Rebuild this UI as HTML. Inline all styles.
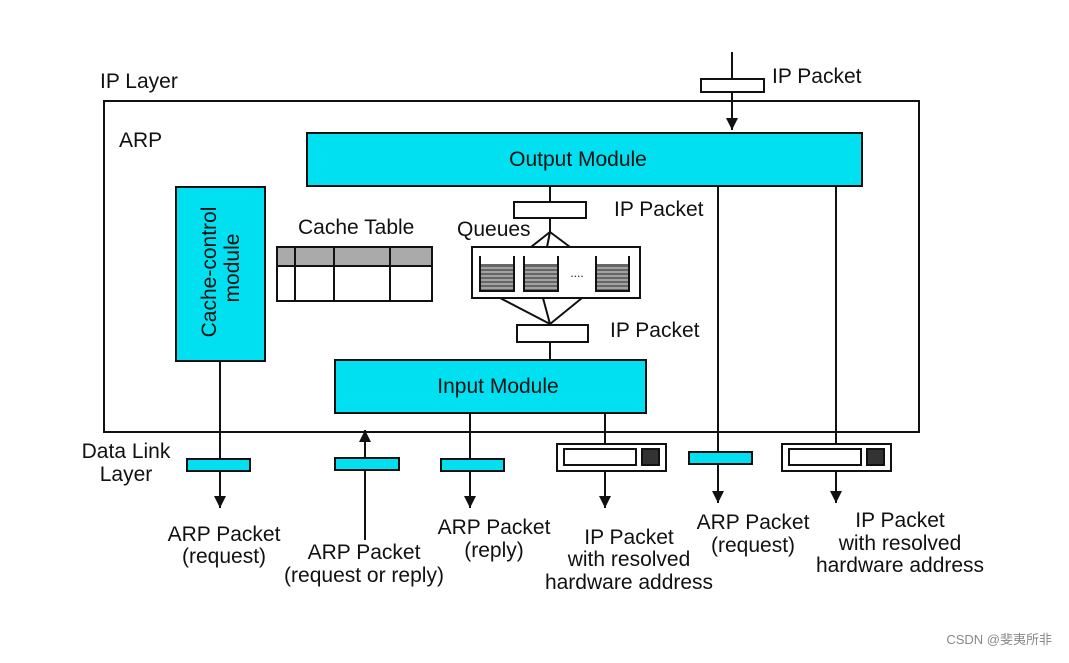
<!DOCTYPE html>
<html><head><style>
html,body{margin:0;padding:0;background:#fff;}
svg text{font-family:"Liberation Sans",sans-serif;fill:#111;}
</style></head><body>
<svg width="1069" height="658" viewBox="0 0 1069 658" xmlns="http://www.w3.org/2000/svg">
<defs>
<marker id="ah" markerWidth="12" markerHeight="12" refX="10" refY="5" orient="auto-start-reverse" markerUnits="userSpaceOnUse" viewBox="0 0 10 10">
<path d="M0,0 L10,5 L0,10 Z" fill="#111"/>
</marker>
</defs>
<rect x="104" y="101" width="815" height="331" fill="#fff" stroke="#111" stroke-width="2"/>
<text x="100" y="88" font-size="21">IP Layer</text>
<text x="119" y="147" font-size="21">ARP</text>
<!-- top IP packet -->
<line x1="732" y1="52" x2="732" y2="79" stroke="#111" stroke-width="2"/>
<line x1="732" y1="92" x2="732" y2="130" stroke="#111" stroke-width="2" marker-end="url(#ah)"/>
<rect x="701" y="79" width="63" height="13" fill="#fff" stroke="#111" stroke-width="2"/>
<text x="772" y="83" font-size="21">IP Packet</text>
<!-- output module -->
<rect x="307" y="133" width="555" height="53" fill="#00e0f0" stroke="#111" stroke-width="2"/>
<text x="578" y="166" font-size="21" text-anchor="middle">Output Module</text>
<!-- cache control -->
<rect x="176" y="187" width="89" height="174" fill="#00e0f0" stroke="#111" stroke-width="2"/>
<text font-size="21" text-anchor="middle" transform="translate(216,272) rotate(-90)">Cache-control</text>
<text font-size="21" text-anchor="middle" transform="translate(239,268) rotate(-90)">module</text>
<!-- cache table -->
<text x="298" y="234" font-size="21">Cache Table</text>
<rect x="277" y="247" width="155" height="19" fill="#aaa"/>
<g stroke="#111" stroke-width="2" fill="none">
<rect x="277" y="247" width="155" height="54"/>
<line x1="277" y1="266" x2="432" y2="266"/>
<line x1="295" y1="247" x2="295" y2="301"/>
<line x1="334" y1="247" x2="334" y2="301"/>
<line x1="390" y1="247" x2="390" y2="301"/>
</g>
<!-- queues -->
<text x="457" y="236" font-size="21">Queues</text>
<text x="614" y="216" font-size="21">IP Packet</text>
<text x="610" y="337" font-size="21">IP Packet</text>
<g stroke="#111" stroke-width="2" fill="none">
<line x1="550" y1="186" x2="550" y2="202"/>
<line x1="550" y1="218" x2="550" y2="232"/>
<line x1="550" y1="232" x2="531" y2="247"/>
<line x1="550" y1="232" x2="547" y2="247"/>
<line x1="550" y1="232" x2="570" y2="247"/>
<line x1="500" y1="298" x2="550" y2="324"/>
<line x1="543" y1="298" x2="550" y2="324"/>
<line x1="582" y1="298" x2="550" y2="324"/>
<line x1="550" y1="342" x2="550" y2="360"/>
<rect x="514" y="202" width="72" height="16" fill="#fff"/>
<rect x="517" y="325" width="71" height="17" fill="#fff"/>
<rect x="472" y="247" width="168" height="51" fill="#fff"/>
</g>
<g>
<rect x="481" y="264" width="32" height="26" fill="#666"/>
<rect x="525" y="264" width="32" height="26" fill="#666"/>
<rect x="597" y="264" width="31" height="26" fill="#666"/>
<g stroke="#ddd" stroke-width="1">
<line x1="481" y1="268" x2="628" y2="268"/><line x1="481" y1="272" x2="628" y2="272"/>
<line x1="481" y1="276" x2="628" y2="276"/><line x1="481" y1="280" x2="628" y2="280"/>
<line x1="481" y1="284" x2="628" y2="284"/><line x1="481" y1="288" x2="628" y2="288"/>
</g>
<rect x="514" y="262" width="10" height="30" fill="#fff"/>
<rect x="558" y="262" width="38" height="30" fill="#fff"/>
<g stroke="#111" stroke-width="2" fill="none">
<path d="M480,256 V291 H514 V256"/>
<path d="M524,256 V291 H558 V256"/>
<path d="M596,256 V291 H629 V256"/>
</g>
<text x="577" y="277" font-size="12" text-anchor="middle">....</text>
</g>
<!-- input module -->
<rect x="335" y="360" width="311" height="53" fill="#00e0f0" stroke="#111" stroke-width="2"/>
<text x="498" y="393" font-size="21" text-anchor="middle">Input Module</text>
<!-- vertical lines -->
<g stroke="#111" stroke-width="2">
<line x1="220" y1="361" x2="220" y2="508" marker-end="url(#ah)"/>
<line x1="365" y1="540" x2="365" y2="430" marker-end="url(#ah)"/>
<line x1="470" y1="413" x2="470" y2="508" marker-end="url(#ah)"/>
<line x1="605" y1="413" x2="605" y2="508" marker-end="url(#ah)"/>
<line x1="718" y1="186" x2="718" y2="503" marker-end="url(#ah)"/>
<line x1="836" y1="186" x2="836" y2="503" marker-end="url(#ah)"/>
</g>
<g stroke="#111" stroke-width="2" fill="#00e0f0">
<rect x="187" y="459" width="63" height="12"/>
<rect x="335" y="458" width="64" height="12"/>
<rect x="441" y="459" width="63" height="12"/>
<rect x="689" y="452" width="63" height="12"/>
</g>
<g stroke="#111" stroke-width="2">
<rect x="557" y="444" width="109" height="27" fill="#fff"/>
<rect x="564" y="449" width="72" height="16" fill="#fff"/>
<rect x="642" y="449" width="17" height="16" fill="#333"/>
<rect x="782" y="444" width="109" height="27" fill="#fff"/>
<rect x="789" y="449" width="72" height="16" fill="#fff"/>
<rect x="867" y="449" width="17" height="16" fill="#333"/>
</g>
<!-- labels -->
<g font-size="21" text-anchor="middle">
<text x="126" y="458">Data Link</text>
<text x="126" y="481">Layer</text>
<text x="224" y="541">ARP Packet</text>
<text x="224" y="563">(request)</text>
<text x="364" y="559">ARP Packet</text>
<text x="364" y="582">(request or reply)</text>
<text x="494" y="534">ARP Packet</text>
<text x="494" y="557">(reply)</text>
<text x="629" y="544">IP Packet</text>
<text x="629" y="566">with resolved</text>
<text x="629" y="589">hardware address</text>
<text x="753" y="529">ARP Packet</text>
<text x="753" y="552">(request)</text>
<text x="900" y="527">IP Packet</text>
<text x="900" y="550">with resolved</text>
<text x="900" y="572">hardware address</text>
</g>
<text x="1052" y="644" font-size="13" text-anchor="end" style="fill:#888;font-family:'Liberation Sans','Noto Sans CJK SC',sans-serif">CSDN @斐夷所非</text>
</svg>
</body></html>
